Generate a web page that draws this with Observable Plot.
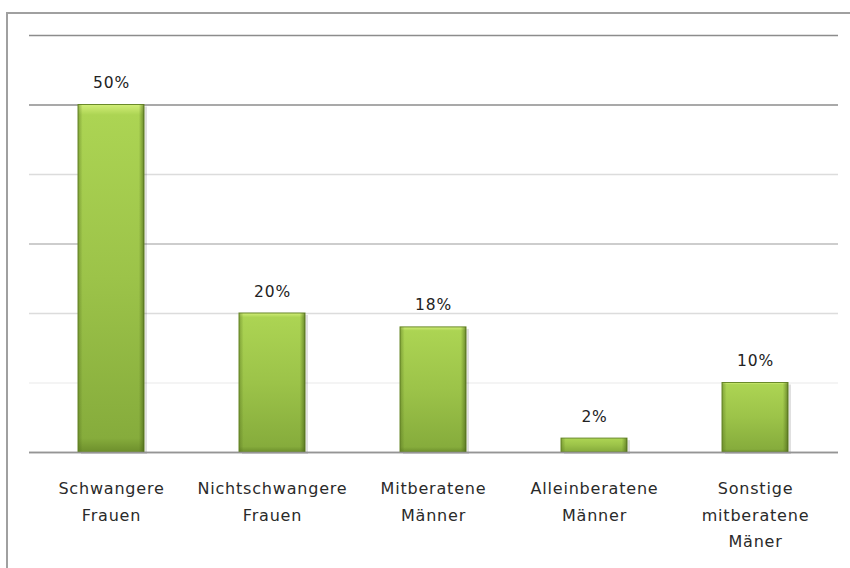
<!DOCTYPE html>
<html>
<head>
<meta charset="utf-8">
<script src="https://cdn.jsdelivr.net/npm/d3@7"></script>
<script src="https://cdn.jsdelivr.net/npm/@observablehq/plot@0.6"></script>
<style>
  html, body { margin: 0; padding: 0; background: #fff; overflow: hidden; }
  #wrap { position: relative; width: 850px; height: 568px; overflow: hidden; }
  #frame { position: absolute; left: 6px; top: 12px; width: 900px; height: 700px;
           border: 2px solid #a0a0a0; box-sizing: border-box; pointer-events: none; }
  #chart { position: absolute; left: 0; top: 0; }
</style>
</head>
<body>
<div id="wrap"><div id="chart"></div><div id="frame"></div></div>
<script>
const categories = [
  "Schwangere\nFrauen",
  "Nichtschwangere\nFrauen",
  "Mitberatene\nMänner",
  "Alleinberatene\nMänner",
  "Sonstige\nmitberatene\nMäner"
];
const values = [50, 20, 18, 2, 10];
const valueLabels = ["50%", "20%", "18%", "2%", "10%"];
const gridTicks = [0, 10, 20, 30, 40, 50, 60];
const gridColors = ["#959595", "#f0f0f0", "#dcdcdc", "#bdbdbd", "#dcdcdc", "#8c8c8c", "#8c8c8c"];

const data = categories.map((c, i) => ({category: c, value: values[i], label: valueLabels[i]}));
const grid = gridTicks.map((t, i) => ({t, color: gridColors[i]}));

const font = "DejaVu Sans, sans-serif";

const plot = Plot.plot({
  width: 850,
  height: 568,
  marginLeft: 29,
  marginRight: 12,
  marginTop: 35,
  marginBottom: 116,
  style: {fontFamily: font, background: "transparent"},
  x: {domain: categories, paddingInner: 0.59, paddingOuter: 0.295, axis: null},
  y: {domain: [0, 60], axis: null},
  marks: [
    Plot.ruleY(grid, {y: "t", stroke: d => d.color, strokeWidth: 1.6}),
    // soft shadow
    Plot.barY(data, {x: "category", y: "value", fill: "#000", fillOpacity: 0.12, dx: 3, dy: 2}),
    // main gradient body
    Plot.barY(data, {x: "category", y: "value", fill: "url(#barGradV)", stroke: "#6a8a2a", strokeWidth: 1}),
    // side shading
    Plot.barY(data, {x: "category", y: "value", fill: "url(#barGradH)"}),
    Plot.ruleY([0], {stroke: "#959595", strokeWidth: 1.6}),
    Plot.text(data, {x: "category", y: "value", text: "label", lineAnchor: "bottom", dy: -17,
                     fontSize: 15.5, fill: "#222", className: "vlab"}),
    Plot.text(data, {x: "category", y: () => 0, text: "category", lineAnchor: "top", dy: 23,
                     fontSize: 16, lineHeight: 1.65, fill: "#2a2a2a", className: "xlab"})
  ]
});

const defs = d3.select(plot).insert("defs", ":first-child");
const gv = defs.append("linearGradient").attr("id", "barGradV")
  .attr("x1", 0).attr("y1", 0).attr("x2", 0).attr("y2", 1);
gv.append("stop").attr("offset", "0%").attr("stop-color", "#d2ee78");
gv.append("stop").attr("offset", "3%").attr("stop-color", "#acd453");
gv.append("stop").attr("offset", "50%").attr("stop-color", "#9cc349");
gv.append("stop").attr("offset", "96%").attr("stop-color", "#86ac3c");
gv.append("stop").attr("offset", "100%").attr("stop-color", "#6d8f2c");
const gh = defs.append("linearGradient").attr("id", "barGradH")
  .attr("x1", 0).attr("y1", 0).attr("x2", 1).attr("y2", 0);
gh.append("stop").attr("offset", "0%").attr("stop-color", "#4f6b1a").attr("stop-opacity", 0.45);
gh.append("stop").attr("offset", "7%").attr("stop-color", "#4f6b1a").attr("stop-opacity", 0.0);
gh.append("stop").attr("offset", "92%").attr("stop-color", "#4f6b1a").attr("stop-opacity", 0.0);
gh.append("stop").attr("offset", "100%").attr("stop-color", "#3f5812").attr("stop-opacity", 0.6);

d3.select(plot).selectAll("g.xlab text, g.vlab text").style("letter-spacing", "0.8px");

document.getElementById("chart").appendChild(plot);
</script>
</body>
</html>
